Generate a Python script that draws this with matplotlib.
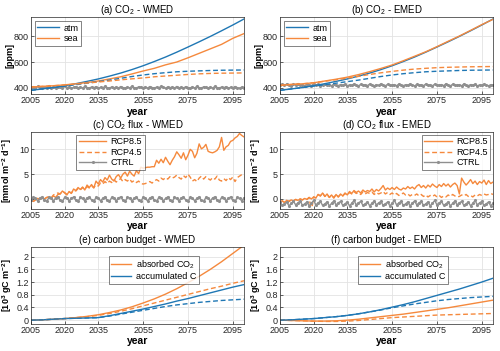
import matplotlib
matplotlib.use("Agg")
import matplotlib.pyplot as plt
from matplotlib import font_manager

names = set(f.name for f in font_manager.fontManager.ttflist)
narrow = 'Liberation Sans Narrow' if 'Liberation Sans Narrow' in names else 'Liberation Sans'
plt.rcParams['font.family'] = [narrow, 'DejaVu Sans']
plt.rcParams['mathtext.default'] = 'regular'

BLUE = '#1f77b4'
ORANGE = '#f5893d'
GRAY = '#8f8f8f'

# 5-yearly smooth series
years5 = [2005, 2010, 2015, 2020, 2025, 2030, 2035, 2040, 2045, 2050,
          2055, 2060, 2065, 2070, 2075, 2080, 2085, 2090, 2095, 2100]
# annual series
years1 = list(range(2005, 2101))

atm85 = [379, 390, 401, 415, 431, 449, 468, 490, 514, 541, 571, 604, 639, 677, 717, 758, 800, 844, 889, 936]
atm45 = [379, 390, 401, 412, 423, 435, 447, 459, 473, 487, 499, 509, 517, 524, 528, 531, 534, 536, 537, 538]
sea_w85 = [405, 410, 415, 422, 430, 440, 452, 468, 485, 507, 530, 551, 578, 600, 633, 668, 703, 738, 785, 822]
sea_w45 = [405, 410, 415, 421, 428, 436, 444, 452, 461, 469, 476, 485, 491, 497, 503, 508, 511, 513, 514, 515]
sea_e85 = [418, 425, 430, 438, 452, 466, 482, 502, 525, 550, 577, 610, 645, 680, 720, 762, 803, 847, 892, 933]
sea_e45 = [418, 425, 430, 438, 450, 462, 474, 488, 503, 516, 527, 537, 545, 551, 556, 559, 561, 563, 564, 565]

ctrl_w = [400, 405, 398, 410, 402, 396, 408, 401, 412, 399,
          404, 395, 409, 403, 397, 411, 400, 406, 394, 402,
          408, 399, 404, 396, 410, 401, 397, 405, 399, 408,
          395, 403, 398, 410, 400, 396, 406, 399, 404, 397,
          409, 401, 395, 404, 398, 411, 400, 396, 407, 402,
          398, 405, 396, 409, 401, 397, 404, 399, 410, 402,
          395, 406, 400, 404, 397, 409, 399, 403, 396, 408,
          401, 398, 405, 397, 411, 400, 396, 407, 402, 398,
          404, 396, 410, 401, 397, 405, 399, 408, 395, 403,
          398, 409, 400, 396, 404, 401]
ctrl_e = [420, 426, 417, 429, 421, 415, 427, 420, 431, 418,
          423, 414, 428, 422, 416, 430, 419, 425, 413, 421,
          427, 418, 423, 415, 429, 420, 416, 424, 418, 427,
          414, 422, 417, 429, 419, 415, 425, 418, 423, 416,
          428, 420, 414, 423, 417, 430, 419, 415, 426, 421,
          417, 424, 415, 428, 420, 416, 423, 418, 429, 421,
          414, 425, 419, 423, 416, 428, 418, 422, 415, 427,
          420, 417, 424, 416, 430, 419, 415, 426, 421, 417,
          423, 415, 429, 420, 416, 424, 418, 427, 414, 422,
          417, 428, 419, 415, 423, 420]

flux_w85 = [-0.3, -0.5, -0.2, 0.1, -0.1, 0.2, 0.0, 0.3, 0.4, 0.2,
            0.6, 0.3, 0.9, 1.0, 1.6, 1.2, 0.8, 1.5, 1.1, 2.0,
            1.7, 2.3, 1.9, 2.4, 1.8, 2.8, 2.3, 2.9, 2.2, 3.6,
            3.0, 3.9, 3.4, 4.3, 3.8, 4.8, 4.0, 3.6, 4.5, 4.9,
            4.2, 5.0, 5.4, 4.6, 5.6, 5.0, 4.6, 5.7, 5.1, 6.4,
            6.2, 6.3, 6.4, 6.4, 6.5, 6.5, 7.8, 7.2, 8.0, 7.3,
            8.4, 7.6, 6.9, 7.8, 8.5, 9.5, 8.9, 8.2, 9.3, 7.9,
            8.8, 10.0, 9.6, 8.3, 9.2, 11.1, 10.1, 10.4, 11.0, 9.6,
            9.4, 9.3, 9.5, 9.8, 10.5, 12.4, 9.8, 10.5, 10.8, 11.6,
            11.8, 12.3, 12.6, 13.2, 12.8, 12.5]
flux_w45 = [-0.3, -0.5, -0.2, 0.1, -0.1, 0.2, 0.0, 0.3, 0.4, 0.2,
            0.8, 1.0, 1.2, 1.0, 1.5, 1.3, 0.9, 1.4, 1.2, 1.8,
            1.6, 2.1, 1.8, 2.3, 1.9, 2.5, 2.2, 2.6, 2.3, 2.8,
            2.6, 3.2, 3.0, 3.5, 3.1, 3.6, 3.3, 3.9, 3.4, 3.8,
            4.1, 3.5, 3.9, 3.6, 4.0, 3.4, 3.7, 3.3, 3.6, 3.1,
            3.0, 3.1, 3.3, 3.5, 3.2, 3.6, 3.9, 3.6, 4.2, 3.9,
            4.3, 4.0, 4.5, 4.2, 4.4, 4.8, 4.3, 4.0, 4.7, 4.3,
            5.0, 4.4, 3.6, 3.9, 3.5, 4.2, 4.6, 4.0, 4.5, 4.1,
            3.8, 4.3, 4.0, 4.6, 3.8, 3.6, 4.1, 3.7, 4.3, 3.9,
            4.4, 3.5, 4.3, 4.6, 4.9, 5.0]
flux_wctrl = [-0.3, 0.3, 0.1, -0.4, 0.2, 0.4, -0.2, -0.5, 0.3, 0.1,
              -0.4, 0.2, 0.4, -0.3, -0.5, 0.3, 0.2, -0.4, 0.1, 0.4,
              -0.3, -0.5, 0.3, 0.1, -0.4, 0.2, 0.4, -0.2, -0.5, 0.3,
              0.2, -0.4, 0.1, 0.4, -0.3, -0.5, 0.3, 0.1, -0.4, 0.2,
              0.4, -0.2, -0.5, 0.3, 0.2, -0.4, 0.1, 0.4, -0.3, -0.5,
              0.3, 0.1, -0.4, 0.2, 0.4, -0.2, -0.5, 0.3, 0.2, -0.4,
              0.1, 0.4, -0.3, -0.5, 0.3, 0.1, -0.4, 0.2, 0.4, -0.2,
              -0.5, 0.3, 0.2, -0.4, 0.1, 0.4, -0.3, -0.5, 0.3, 0.1,
              -0.4, 0.2, 0.4, -0.2, -0.5, 0.3, 0.2, -0.4, 0.1, 0.4,
              -0.3, -0.5, 0.3, 0.1, -0.4, 0.2]

flux_e85 = [-0.6, -0.4, -0.7, -0.3, -0.5, -0.2, -0.4, -0.1, -0.3, 0.0,
            -0.2, 0.1, -0.1, 0.3, 0.0, 0.4, 0.2, 0.9, 0.6, 1.2,
            0.5, 1.0, 0.3, 0.8, 0.2, 0.9, 0.4, 1.0, 0.6, 1.2,
            0.8, 1.5, 1.1, 1.7, 1.3, 1.6, 1.2, 1.8, 1.4, 1.7,
            1.5, 2.0, 1.4, 1.9, 1.6, 2.1, 2.7, 1.8, 2.2, 1.9,
            2.3, 1.9, 2.4, 2.0, 1.8, 2.2, 2.0, 2.5, 2.1, 2.4,
            2.0, 2.6, 2.9, 2.3, 2.7, 2.2, 2.8, 2.4, 3.0, 2.6,
            2.3, 2.9, 2.5, 3.1, 2.6, 3.0, 2.4, 2.9, 3.2, 2.7,
            1.0, 4.2, 3.4, 2.8, 3.3, 3.9, 3.1, 3.6, 2.9, 3.5,
            3.2, 3.8, 2.9, 3.7, 3.1, 3.4]
flux_e45 = [-0.6, -0.4, -0.7, -0.3, -0.5, -0.2, -0.4, -0.1, -0.3, 0.0,
            -0.2, 0.1, -0.1, 0.3, -2.5, 0.4, 0.2, 0.9, 0.6, 1.2,
            0.5, 0.9, 0.3, 0.8, 0.2, 0.9, 0.4, 0.9, 0.6, 1.1,
            0.8, 1.3, 1.0, 1.5, 1.1, 1.3, 0.9, 1.4, 1.0, 1.3,
            1.1, 1.4, 0.9, 1.3, 1.0, 1.2, 1.5, 1.0, 1.3, 0.9,
            1.2, 0.8, 1.1, 0.7, 0.9, 1.2, 0.8, 1.0, 0.6, 0.9,
            0.7, 1.0, 0.6, 0.9, 0.5, 0.8, 0.4, 0.7, 0.5, 0.8,
            0.4, 0.7, 0.3, 0.6, 0.4, 0.8, 0.5, 0.9, 0.6, 0.4,
            0.5, 0.8, 0.6, 0.9, 0.5, 0.7, 0.4, 0.8, 0.6, 0.9,
            0.7, 1.0, 0.8, 0.9, 1.1, 0.9]
flux_ectrl = [-0.7, -1.3, -1.0, -0.6, -1.4, -0.9, -0.5, -1.2, -0.8, -0.4,
              -1.3, -1.0, -0.6, -1.4, -0.9, -0.3, -1.2, -0.8, -0.5, -1.3,
              -1.0, -0.6, -1.4, -0.9, -0.4, -1.2, -0.8, -0.5, -1.3, -1.0,
              -0.6, -1.4, -0.9, -0.3, -1.2, -0.8, -0.5, -1.3, -1.0, -0.6,
              -1.4, -0.9, -0.4, -1.2, -0.8, -0.5, -1.3, -1.0, -0.6, -1.4,
              -0.9, -0.3, -1.2, -0.8, -0.5, -1.3, -1.0, -0.6, -1.4, -0.9,
              -0.4, -1.2, -0.8, -0.5, -1.3, -1.0, -0.6, -1.4, -0.9, -0.3,
              -1.2, -0.8, -0.5, -1.3, -1.0, -0.6, -1.4, -0.9, -0.4, -1.2,
              -0.8, -0.5, -1.3, -1.0, -0.6, -1.4, -0.9, -0.3, -1.2, -0.8,
              -0.5, -1.3, -1.0, -0.6, -1.4, -0.9]

abs_w85 = [0, 0.01, 0.03, 0.05, 0.08, 0.12, 0.17, 0.24, 0.32, 0.42, 0.54, 0.67, 0.82, 0.99, 1.18, 1.38, 1.60, 1.84, 2.10, 2.36]
abs_w45 = [0, 0.01, 0.03, 0.05, 0.08, 0.11, 0.15, 0.21, 0.28, 0.36, 0.45, 0.54, 0.63, 0.72, 0.81, 0.90, 0.99, 1.07, 1.16, 1.24]
acc_w85 = [0, 0.01, 0.03, 0.05, 0.06, 0.07, 0.08, 0.14, 0.21, 0.28, 0.35, 0.43, 0.51, 0.60, 0.68, 0.77, 0.86, 0.95, 1.04, 1.12]
acc_w45 = [0, 0.01, 0.03, 0.05, 0.06, 0.07, 0.08, 0.13, 0.19, 0.25, 0.31, 0.37, 0.43, 0.48, 0.52, 0.56, 0.59, 0.62, 0.64, 0.66]
abs_e85 = [0, -0.01, -0.02, -0.03, -0.03, -0.02, 0.0, 0.03, 0.07, 0.11, 0.15, 0.19, 0.24, 0.29, 0.34, 0.39, 0.45, 0.51, 0.57, 0.63]
abs_e45 = [0, -0.01, -0.02, -0.03, -0.04, -0.04, -0.03, -0.01, 0.02, 0.05, 0.08, 0.10, 0.12, 0.14, 0.16, 0.17, 0.18, 0.19, 0.20, 0.21]
acc_e85 = [0, 0.01, 0.03, 0.05, 0.08, 0.11, 0.15, 0.20, 0.26, 0.33, 0.41, 0.49, 0.58, 0.68, 0.78, 0.88, 0.98, 1.09, 1.20, 1.32]
acc_e45 = [0, 0.01, 0.03, 0.05, 0.08, 0.11, 0.15, 0.20, 0.26, 0.32, 0.39, 0.45, 0.51, 0.56, 0.61, 0.65, 0.68, 0.71, 0.73, 0.75]

xticks = [2005, 2020, 2035, 2055, 2075, 2095]
titles = ['(a) CO$_2$ - WMED', '(b) CO$_2$ - EMED',
          '(c) CO$_2$ flux - WMED', '(d) CO$_2$ flux - EMED',
          '(e) carbon budget - WMED', '(f) carbon budget - EMED']
ylabels = ['[ppm]', '[mmol m$^{-2}$ d$^{-1}$]', '[10$^3$ gC m$^{-2}$]']

DASH = (0, (3.5, 2))

fig = plt.figure(figsize=(5.0, 3.51), dpi=100)
lefts = [0.062, 0.560]
bottoms = [0.732, 0.405, 0.077]
axs = [[fig.add_axes([l, b, 0.426, 0.219]) for l in lefts] for b in bottoms]


def style(ax, title, ylabel):
    ax.set_xlim(2005, 2100)
    ax.set_xticks(xticks)
    ax.set_xticklabels([str(t) for t in xticks])
    ax.grid(True, color='#e3e3e3', linewidth=0.6)
    ax.set_axisbelow(True)
    ax.tick_params(labelsize=6.5, direction='in', length=2, width=0.5, pad=1.5, colors='#262626')
    for s in ax.spines.values():
        s.set_linewidth(0.5)
        s.set_color('#262626')
    ax.set_title(title, fontsize=7, pad=3)
    ax.set_ylabel(ylabel, fontsize=6.5, fontweight='bold')
    ax.yaxis.set_label_coords(-0.078, 0.5)
    ax.set_xlabel('year', fontsize=7.5, fontweight='bold', labelpad=1)


def legend(ax, handles, labels, **kw):
    lg = ax.legend(handles, labels, fontsize=6.5, fancybox=False, edgecolor='#262626',
                   borderpad=0.3, labelspacing=0.15, handletextpad=0.5, **kw)
    lg.get_frame().set_linewidth(0.5)
    return lg


# row 1: CO2
for ax, sea85, sea45, ctrl, t in [(axs[0][0], sea_w85, sea_w45, ctrl_w, titles[0]),
                                  (axs[0][1], sea_e85, sea_e45, ctrl_e, titles[1])]:
    ax.plot(years1, ctrl, color=GRAY, lw=1.0, marker='.', ms=2.5)
    h1, = ax.plot(years5, atm85, color=BLUE, lw=1.0)
    h2, = ax.plot(years5, sea85, color=ORANGE, lw=1.0)
    ax.plot(years5, atm45, color=BLUE, lw=1.0, ls=DASH)
    ax.plot(years5, sea45, color=ORANGE, lw=1.0, ls=DASH)
    ax.set_ylim(350, 950)
    ax.set_yticks([400, 600, 800])
    style(ax, t, ylabels[0])
    legend(ax, [h1, h2], ['atm', 'sea'], loc='upper left', handlelength=2.4, borderaxespad=0.4)

# row 2: fluxes
for ax, f85, f45, ctrl, t, right in [(axs[1][0], flux_w85, flux_w45, flux_wctrl, titles[2], False),
                                     (axs[1][1], flux_e85, flux_e45, flux_ectrl, titles[3], True)]:
    h2, = ax.plot(years1, f45, color=ORANGE, lw=1.0, ls=DASH)
    h1, = ax.plot(years1, f85, color=ORANGE, lw=1.0)
    h3, = ax.plot(years1, ctrl, color=GRAY, lw=1.0, marker='.', ms=2.5)
    ax.set_ylim(-2, 13.5)
    ax.set_yticks([0, 5, 10])
    style(ax, t, ylabels[1])
    if right:
        legend(ax, [h1, h2, h3], ['RCP8.5', 'RCP4.5', 'CTRL'], loc='upper right',
               handlelength=3.0, borderaxespad=0.3)
    else:
        legend(ax, [h1, h2, h3], ['RCP8.5', 'RCP4.5', 'CTRL'], loc='upper left',
               bbox_to_anchor=(0.2, 1.0), handlelength=3.0, borderaxespad=0.3)

# row 3: carbon budget
for ax, a85, a45, c85, c45, t in [(axs[2][0], abs_w85, abs_w45, acc_w85, acc_w45, titles[4]),
                                  (axs[2][1], abs_e85, abs_e45, acc_e85, acc_e45, titles[5])]:
    h1, = ax.plot(years5, a85, color=ORANGE, lw=1.0)
    h2, = ax.plot(years5, c85, color=BLUE, lw=1.0)
    ax.plot(years5, a45, color=ORANGE, lw=1.0, ls=DASH)
    ax.plot(years5, c45, color=BLUE, lw=1.0, ls=DASH)
    ax.set_ylim(-0.12, 2.3)
    ax.set_yticks([0, 0.4, 0.8, 1.2, 1.6, 2])
    ax.set_yticklabels(['0', '0.4', '0.8', '1.2', '1.6', '2'])
    style(ax, t, ylabels[2])
    legend(ax, [h1, h2], ['absorbed CO$_2$', 'accumulated C'], loc='upper left',
           bbox_to_anchor=(0.365, 0.89), handlelength=2.2, borderaxespad=0.0)

fig.savefig('out.png', dpi=100)
